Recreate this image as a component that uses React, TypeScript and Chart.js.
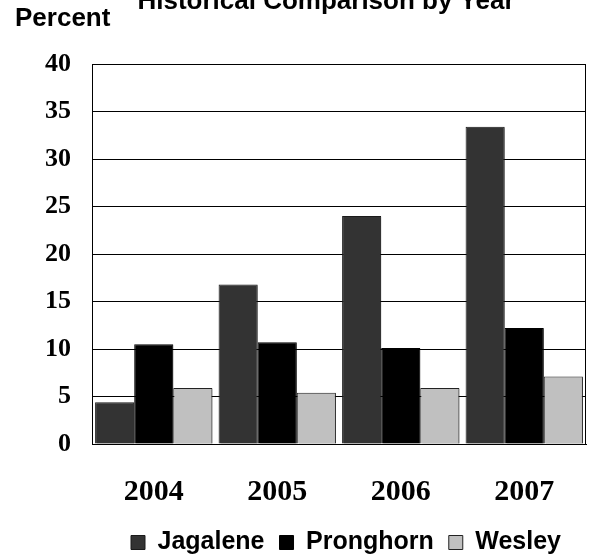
import React, { useEffect, useRef } from 'react';
import { Chart, registerables } from 'chart.js';

Chart.register(...registerables);

const years = ['2004', '2005', '2006', '2007'];
const jagalene = [4.4, 16.8, 24.0, 33.4];
const pronghorn = [10.5, 10.7, 10.1, 12.2];
const wesley = [5.9, 5.4, 5.9, 7.1];
const seriesNames = ['Jagalene', 'Pronghorn', 'Wesley'];
const chartTitle = 'Historical Comparison by Year';
const yAxisLabel = 'Percent';
const yMin = 0;
const yMax = 40;
const yStep = 5;

const SANS = 'Arial, "Liberation Sans", sans-serif';
const SERIF = '"Times New Roman", "Liberation Serif", serif';

const decorPlugin = {
  id: 'decor',
  afterLayout(chart: any) {
    // center the legend under the plot area rather than the whole canvas
    const lg = chart.legend;
    if (lg) {
      const centre = (chart.chartArea.left + chart.chartArea.right) / 2 + 7;
      lg.left = 2 * centre - lg.right;
    }
  },
  beforeDatasetsDraw(chart: any) {
    const ctx = chart.ctx;
    ctx.save();
    ctx.shadowColor = 'rgba(0,0,0,0.28)';
    ctx.shadowOffsetX = 2;
    ctx.shadowOffsetY = 1;
    ctx.shadowBlur = 0;
  },
  afterDatasetsDraw(chart: any) {
    const ctx = chart.ctx;
    ctx.restore();
    const { left, top, right, bottom } = chart.chartArea;
    ctx.save();
    ctx.strokeStyle = '#000';
    ctx.lineWidth = 1;
    ctx.strokeRect(Math.round(left) + 0.5, Math.round(top) + 0.5, Math.round(right - left) - 1, Math.round(bottom - top));
    ctx.restore();
  },
  afterDraw(chart: any) {
    const ctx = chart.ctx;
    ctx.save();
    ctx.fillStyle = '#000';
    ctx.font = `bold 26px ${SANS}`;
    ctx.textBaseline = 'alphabetic';
    ctx.textAlign = 'left';
    ctx.fillText(yAxisLabel, 15, 26);
    ctx.textAlign = 'center';
    ctx.fillText(chartTitle, 326, 8.5);
    ctx.restore();
  },
};

export default function App() {
  const ref = useRef<HTMLCanvasElement | null>(null);

  useEffect(() => {
    if (!ref.current) return;
    const chart = new Chart(ref.current, {
      type: 'bar',
      data: {
        labels: years,
        datasets: [
          { label: seriesNames[0], data: jagalene, backgroundColor: '#333333', borderColor: '#1a1a1a', borderWidth: 1 },
          { label: seriesNames[1], data: pronghorn, backgroundColor: '#000000', borderColor: '#000000', borderWidth: 1 },
          { label: seriesNames[2], data: wesley, backgroundColor: '#c0c0c0', borderColor: '#222222', borderWidth: 1 },
        ],
      },
      options: {
        responsive: false,
        animation: false,
        devicePixelRatio: 1,
        layout: { padding: { top: 64, right: 4, left: 0, bottom: -7 } },
        datasets: { bar: { categoryPercentage: 0.95, barPercentage: 1.0 } },
        scales: {
          x: {
            grid: { display: false, drawTicks: false },
            border: { display: true, color: '#000', width: 1 },
            ticks: {
              color: '#000',
              padding: 30,
              font: { family: SERIF, size: 30, weight: 'bold' },
            },
            afterFit(scale: any) {
              scale.height = 71;
            },
          },
          y: {
            min: yMin,
            max: yMax,
            grid: { color: '#000', lineWidth: 1, drawTicks: false },
            border: { display: true, color: '#000', width: 1 },
            ticks: {
              stepSize: yStep,
              color: '#000',
              padding: 21,
              font: { family: SERIF, size: 26, weight: 'bold' },
            },
            afterFit(scale: any) {
              scale.width = 92;
            },
          },
        },
        plugins: {
          title: { display: false },
          tooltip: { enabled: false },
          legend: {
            position: 'bottom',
            labels: {
              boxWidth: 14,
              boxHeight: 14,
              padding: 15,
              color: '#000',
              font: { family: SANS, size: 25, weight: 'bold' },
            },
          },
        },
      },
      plugins: [decorPlugin],
    } as any);
    return () => chart.destroy();
  }, []);

  return (
    <div style={{ position: 'fixed', left: 0, top: 0, width: 590, height: 558, background: '#fff' }}>
      <canvas ref={ref} width={590} height={558} style={{ display: 'block' }} />
    </div>
  );
}
